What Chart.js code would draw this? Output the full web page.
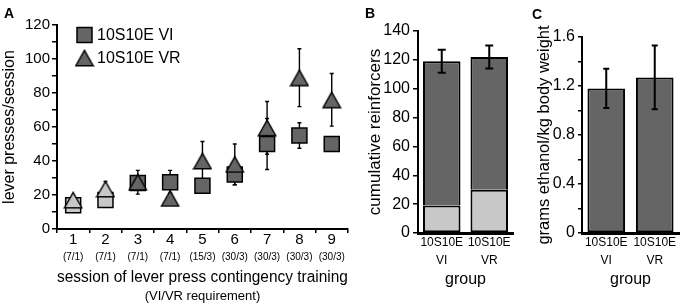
<!DOCTYPE html>
<html><head><meta charset="utf-8">
<script src="https://cdn.jsdelivr.net/npm/chart.js@4.4.0/dist/chart.umd.min.js"></script>
<style>
html,body{margin:0;padding:0;background:#fff;}
#wrap{position:relative;width:680px;height:307px;overflow:hidden;background:#fff;}
.pane{position:absolute;top:0;}
.lt{position:absolute;font:bold 14px "Liberation Sans",Arial,sans-serif;line-height:14px;color:#000;}
</style></head><body>
<div id="wrap">
  <canvas class="pane" id="cA" width="360" height="307" style="left:0"></canvas>
  <canvas class="pane" id="cB" width="160" height="307" style="left:360px"></canvas>
  <canvas class="pane" id="cC" width="150" height="307" style="left:530px"></canvas>
  <div class="lt" style="left:4px;top:6px">A</div>
  <div class="lt" style="left:365px;top:6px">B</div>
  <div class="lt" style="left:532px;top:7px">C</div>
</div>
<script>
// ---------- data ----------
const sessions = ['1','2','3','4','5','6','7','8','9'];
const requirements = ['(7/1)','(7/1)','(7/1)','(7/1)','(15/3)','(30/3)','(30/3)','(30/3)','(30/3)'];
const viPresses    = [14, 17, 27, 27.5, 25.5, 32, 50, 55, 50];
const viPressesErr = [2, 3, 3, 7, 3, 6, 15, 7.5, 2];
const vrPresses    = [17, 23.5, 27.5, 18, 40, 38, 59.5, 89, 76];
const vrPressesErr = [2, 4.5, 7, 3, 11.5, 12, 15.5, 17, 15.5];
const groups = [['10S10E','VI'], ['10S10E','VR']];
const reinfEarly = [19, 30];
const reinfLate  = [100, 92];
const reinfErr   = [8, 8];
const ethanol    = [1.18, 1.27];
const ethanolErr = [0.16, 0.26];

// ---------- style ----------
const DARK = '#656565', LIGHT = '#c8c8c8';
const LIGHT_SESSIONS = 2;
const FONT = '"Liberation Sans", Arial, sans-serif';
Chart.defaults.font.family = FONT;
Chart.defaults.color = '#000';

function triCanvas(fill){
  const c = document.createElement('canvas'); c.width = 20; c.height = 18;
  const g = c.getContext('2d');
  g.beginPath(); g.moveTo(10, 1.3); g.lineTo(18.7, 16.7); g.lineTo(1.3, 16.7); g.closePath();
  g.fillStyle = fill; g.fill(); g.lineWidth = 1.4; g.strokeStyle = '#000'; g.stroke();
  return c;
}
const triLight = triCanvas(LIGHT), triDark = triCanvas(DARK);

const errorBars = {
  id: 'errorBars',
  beforeDatasetsDraw(chart, args, o){ if (o.under) drawErr(chart, o); },
  afterDatasetsDraw(chart, args, o){ if (!o.under) drawErr(chart, o); }
};
function drawErr(chart, o){
  const ctx = chart.ctx;
  ctx.save(); ctx.strokeStyle = '#000'; ctx.lineWidth = o.width;
  chart.data.datasets.forEach((ds, di) => {
    if (!ds.errors) return;
    const meta = chart.getDatasetMeta(di);
    const ys = chart.scales[meta.yAxisID];
    meta.data.forEach((el, i) => {
      const e = ds.errors[i]; if (e == null) return;
      const v = ds.errorBase ? ds.errorBase[i] : ds.data[i];
      const x = el.x, y1 = ys.getPixelForValue(v + e), y2 = ys.getPixelForValue(v - e);
      ctx.beginPath();
      ctx.moveTo(x, y1); ctx.lineTo(x, y2);
      ctx.moveTo(x - o.cap, y1); ctx.lineTo(x + o.cap, y1);
      ctx.moveTo(x - o.cap, y2); ctx.lineTo(x + o.cap, y2);
      ctx.stroke();
    });
  });
  ctx.restore();
}

const legendA = {
  id: 'legendA',
  afterDraw(chart){
    const ctx = chart.ctx, a = chart.chartArea;
    const mx = a.left + 27.5, y1 = a.top + 10, y2 = a.top + 33;
    ctx.save();
    ctx.fillStyle = DARK; ctx.fillRect(mx - 7.5, y1 - 7.5, 15, 15);
    ctx.strokeStyle = '#000'; ctx.lineWidth = 1.5; ctx.strokeRect(mx - 7.5, y1 - 7.5, 15, 15);
    ctx.drawImage(triDark, mx - 10, y2 - 9);
    ctx.fillStyle = '#000'; ctx.font = '16px ' + FONT; ctx.textBaseline = 'middle'; ctx.textAlign = 'left';
    ctx.fillText(chart.data.datasets[1].label, a.left + 40, y1 + 1);
    ctx.fillText(chart.data.datasets[0].label, a.left + 40, y2 + 1);
    ctx.restore();
  }
};

const subLabels = {
  id: 'subLabels',
  afterDraw(chart){
    const ctx = chart.ctx, xs = chart.scales.x, a = chart.chartArea;
    ctx.save(); ctx.fillStyle = '#000'; ctx.textAlign = 'center'; ctx.textBaseline = 'middle';
    ctx.font = '10px ' + FONT;
    requirements.forEach((r, i) => ctx.fillText(r, xs.getPixelForValue(i), xs.top + 28));
    ctx.font = '13px ' + FONT;
    ctx.fillText('(VI/VR requirement)', (a.left + a.right) / 2, xs.top + 67);
    ctx.restore();
  }
};

const common = {
  responsive: false, animation: false, events: [],
};

// ---------- Panel A ----------
new Chart(document.getElementById('cA'), {
  type: 'line',
  data: { labels: sessions, datasets: [
    { label: '10S10E VR', data: vrPresses, errors: vrPressesErr, showLine: false, clip: false,
      pointStyle: c => c.dataIndex < LIGHT_SESSIONS ? triLight : triDark, pointRadius: 10, pointHoverRadius: 10 },
    { label: '10S10E VI', data: viPresses, errors: viPressesErr, showLine: false, clip: false,
      pointStyle: 'rect', pointRadius: 10.6, pointHoverRadius: 10.6,
      pointBackgroundColor: c => c.dataIndex < LIGHT_SESSIONS ? LIGHT : DARK,
      pointBorderColor: '#000', pointBorderWidth: 1.5 }
  ]},
  options: Object.assign({}, common, {
    layout: { padding: { left: 0, right: 8, top: 25, bottom: 0 } },
    plugins: { legend: { display: false }, tooltip: { enabled: false },
      errorBars: { under: true, cap: 2, width: 1.4 } },
    scales: {
      x: { offset: true,
        grid: { offset: true, drawOnChartArea: false, drawTicks: true, tickLength: 4, color: '#000', lineWidth: 1.5 },
        border: { display: true, color: '#000', width: 2 },
        ticks: { color: '#000', font: { size: 15 }, padding: -2, maxRotation: 0, autoSkip: false },
        title: { display: true, text: 'session of lever press contingency training', color: '#000',
          font: { size: 16 }, padding: { top: 0, bottom: 20 } },
        afterFit: s => { s.height = 78; } },
      y: { min: 0, max: 120,
        ticks: { stepSize: 10, color: '#000', font: { size: 15 }, padding: 2, autoSkip: false,
          callback: v => (v % 20 === 0 ? String(v) : '') },
        grid: { drawOnChartArea: false, drawTicks: true, tickLength: 5, color: '#000', lineWidth: 1.5 },
        border: { display: true, color: '#000', width: 2 },
        title: { display: true, text: 'lever presses/session', color: '#000', font: { size: 16 }, padding: { top: 0, bottom: 0 } },
        afterFit: s => { s.width = 57; } }
    }
  }),
  plugins: [errorBars, legendA, subLabels]
});

// ---------- Panel B ----------
const reinfTotal = reinfEarly.map((v, i) => v + reinfLate[i]);
new Chart(document.getElementById('cB'), {
  type: 'bar',
  data: { labels: groups, datasets: [
    { data: reinfEarly, backgroundColor: LIGHT, borderColor: '#000', borderWidth: 2, borderSkipped: false, stack: 's' },
    { data: reinfLate, backgroundColor: DARK, borderColor: '#000', borderWidth: 2, borderSkipped: 'bottom', stack: 's',
      errors: reinfErr, errorBase: reinfTotal }
  ]},
  options: Object.assign({}, common, {
    barPercentage: 0.79, categoryPercentage: 1,
    layout: { padding: { left: 0, right: 7, top: 31, bottom: 0 } },
    plugins: { legend: { display: false }, tooltip: { enabled: false },
      errorBars: { under: false, cap: 4, width: 2 } },
    scales: {
      x: { stacked: true,
        grid: { display: false, drawTicks: false },
        border: { display: true, color: '#000', width: 3 },
        ticks: { color: '#000', font: { size: 12, lineHeight: '18px' }, padding: 1, maxRotation: 0, autoSkip: false },
        title: { display: true, text: 'group', color: '#000', font: { size: 16 }, padding: { top: 0, bottom: 18 } },
        afterFit: s => { s.height = 74; } },
      y: { stacked: true, min: 0, max: 140,
        ticks: { stepSize: 20, color: '#000', font: { size: 16 }, padding: 3 },
        grid: { drawOnChartArea: false, drawTicks: true, tickLength: 5, color: '#000', lineWidth: 1.5 },
        border: { display: true, color: '#000', width: 2 },
        title: { display: true, text: 'cumulative reinforcers', color: '#000', font: { size: 17 }, padding: { top: 5, bottom: 0 } },
        afterFit: s => { s.width = 58; } }
    }
  }),
  plugins: [errorBars]
});

// ---------- Panel C ----------
new Chart(document.getElementById('cC'), {
  type: 'bar',
  data: { labels: groups, datasets: [
    { data: ethanol, backgroundColor: DARK, borderColor: '#000', borderWidth: 2, borderSkipped: false,
      errors: ethanolErr }
  ]},
  options: Object.assign({}, common, {
    barPercentage: 0.775, categoryPercentage: 1,
    layout: { padding: { left: 0, right: 1, top: 37, bottom: 0 } },
    plugins: { legend: { display: false }, tooltip: { enabled: false },
      errorBars: { under: false, cap: 3, width: 2 } },
    scales: {
      x: {
        grid: { display: false, drawTicks: false },
        border: { display: true, color: '#000', width: 3 },
        ticks: { color: '#000', font: { size: 12, lineHeight: '18px' }, padding: 1, maxRotation: 0, autoSkip: false },
        title: { display: true, text: 'group', color: '#000', font: { size: 16 }, padding: { top: 0, bottom: 18 } },
        afterFit: s => { s.height = 74; } },
      y: { min: 0, max: 1.6,
        ticks: { stepSize: 0.2, color: '#000', font: { size: 16 }, padding: 3, autoSkip: false,
          callback: v => { const k = Math.round(v * 10); return k % 4 === 0 ? (k === 0 ? '0' : (k / 10).toFixed(1)) : ''; } },
        grid: { drawOnChartArea: false, drawTicks: true, tickLength: 4, color: '#000', lineWidth: 1.5 },
        border: { display: true, color: '#000', width: 2 },
        title: { display: true, text: 'grams ethanol/kg body weight', color: '#000', font: { size: 16.5 }, padding: { top: 4.5, bottom: 0 } },
        afterFit: s => { s.width = 52; } }
    }
  }),
  plugins: [errorBars]
});
</script>
</body></html>
